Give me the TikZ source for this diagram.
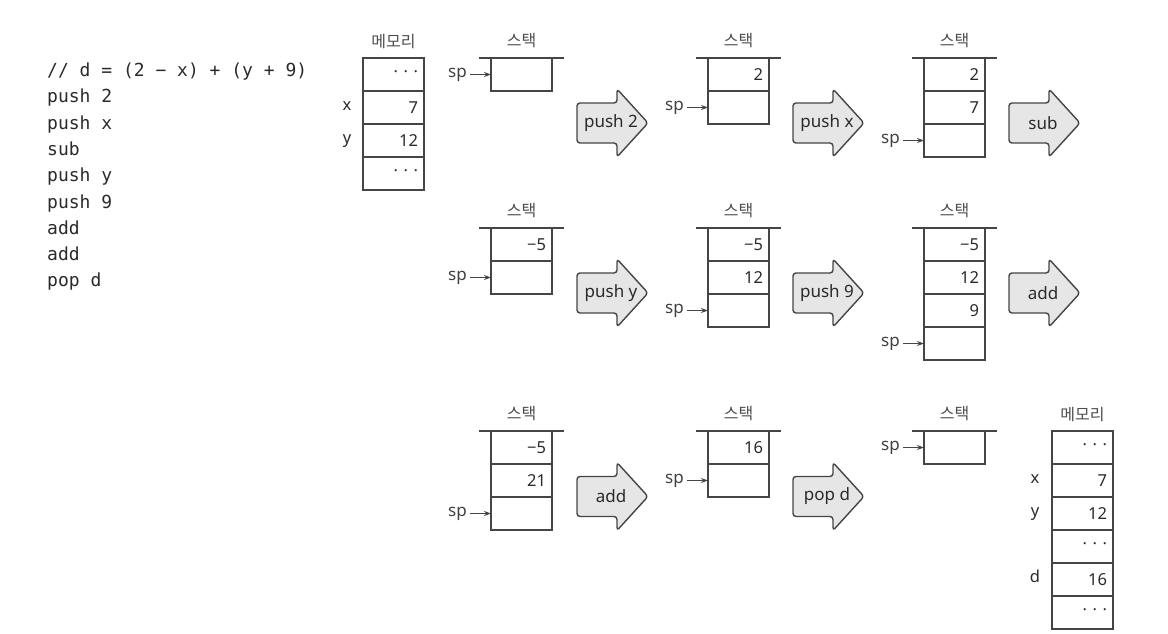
\documentclass[tikz,border=0pt]{standalone}
\usepackage{fontspec}
\setmainfont{Noto Sans}
\newfontfamily\krfont{Noto Sans CJK KR}
\newfontfamily\codefont{DejaVu Sans Mono}
\usetikzlibrary{arrows.meta}
\definecolor{ln}{HTML}{454545}
\definecolor{tx}{HTML}{2A2A2A}
\definecolor{afill}{HTML}{E6E6E6}
\newcommand\blockarrow[4]{%
  \draw[barrowsty] (#2,#3-20) -- (#2+40,#3-20) -- (#2+40,#3-34) -- (#2+71,#3)
     -- (#2+40,#3+34) -- (#2+40,#3+20) -- (#2,#3+20) -- cycle;
  \node[arrowtext] (#1) at (#2+34,#3) {#4};}
\begin{document}
\begin{tikzpicture}[x=1pt,y=-1pt,
  cell/.style={draw=ln, line width=1.5pt, minimum width=61pt, minimum height=33pt,
    inner xsep=6pt, inner ysep=0pt, outer sep=0pt, text width=49pt, align=right,
    anchor=north west, font=\fontsize{16.5}{18}\selectfont, text=tx},
  topline/.style={draw=ln, line width=2.6pt},
  kr/.style={font=\krfont\fontsize{16}{18}\selectfont, text=black!70, inner sep=0pt},
  splbl/.style={font=\fontsize{17}{18}\selectfont, text=black!75, inner sep=0pt, anchor=mid east},
  sparrow/.style={draw=ln, line width=1.1pt, -{Stealth[length=7pt,width=5pt]}},
  varlbl/.style={font=\fontsize{16.5}{18}\selectfont, text=tx, inner sep=0pt, anchor=mid},
  barrowsty/.style={draw=ln, line width=1.4pt, fill=afill, rounded corners=3pt, line join=round},
  arrowtext/.style={font=\fontsize{17}{18}\selectfont, text=tx, inner sep=0pt},
  code/.style={font=\codefont\fontsize{18}{20}\selectfont, text=tx, inner sep=0pt, anchor=base west}
]
\useasboundingbox (0,0) rectangle (1168,634);

% code listing
\node[code] (code1) at (47,76.5) {// d = (2 − x) + (y + 9)};
\node[code] (code2) at (47,102.8) {push 2};
\node[code] (code3) at (47,129.1) {push x};
\node[code] (code4) at (47,155.4) {sub};
\node[code] (code5) at (47,181.7) {push y};
\node[code] (code6) at (47,208.0) {push 9};
\node[code] (code7) at (47,234.3) {add};
\node[code] (code8) at (47,260.6) {add};
\node[code] (code9) at (47,286.9) {pop d};

% memory 1
\node[cell] (m1a) at (363,58) {· · ·};
\node[cell] (m1b) at (m1a.south west) {7};
\node[cell] (m1c) at (m1b.south west) {12};
\node[cell] (m1d) at (m1c.south west) {· · ·};
\node[kr] (m1lbl) at ([yshift=16pt]m1a.north) {메모리};
\node[varlbl] (m1x) at ([xshift=-16pt]m1b.west) {x};
\node[varlbl] (m1y) at ([xshift=-16pt]m1c.west) {y};

% ---------- row 1 ----------
\node[cell] (A1) at (491,58) {};
\draw[topline] ([xshift=-12pt]A1.north west) -- ([xshift=12pt]A1.north east);
\node[kr] (Albl) at ([yshift=17pt]A1.north) {스택};
\node[splbl] (Asp) at ([xshift=-24pt]A1.west) {sp};
\draw[sparrow] ([xshift=3pt]Asp.mid east) -- (A1.west);
\blockarrow{arr1}{577}{123}{push 2}
\node[cell] (B1) at (708,58) {2};
\node[cell] (B2) at (B1.south west) {};
\draw[topline] ([xshift=-12pt]B1.north west) -- ([xshift=12pt]B1.north east);
\node[kr] (Blbl) at ([yshift=17pt]B1.north) {스택};
\node[splbl] (Bsp) at ([xshift=-24pt]B2.west) {sp};
\draw[sparrow] ([xshift=3pt]Bsp.mid east) -- (B2.west);
\blockarrow{arr2}{793}{123}{push x}
\node[cell] (C1) at (924,58) {2};
\node[cell] (C2) at (C1.south west) {7};
\node[cell] (C3) at (C2.south west) {};
\draw[topline] ([xshift=-12pt]C1.north west) -- ([xshift=12pt]C1.north east);
\node[kr] (Clbl) at ([yshift=17pt]C1.north) {스택};
\node[splbl] (Csp) at ([xshift=-24pt]C3.west) {sp};
\draw[sparrow] ([xshift=3pt]Csp.mid east) -- (C3.west);
\blockarrow{arr3}{1009}{123}{sub}

% ---------- row 2 ----------
\node[cell] (D1) at (491,228) {−5};
\node[cell] (D2) at (D1.south west) {};
\draw[topline] ([xshift=-12pt]D1.north west) -- ([xshift=12pt]D1.north east);
\node[kr] (Dlbl) at ([yshift=17pt]D1.north) {스택};
\node[splbl] (Dsp) at ([xshift=-24pt]D2.west) {sp};
\draw[sparrow] ([xshift=3pt]Dsp.mid east) -- (D2.west);
\blockarrow{arr4}{577}{293}{push y}
\node[cell] (E1) at (708,228) {−5};
\node[cell] (E2) at (E1.south west) {12};
\node[cell] (E3) at (E2.south west) {};
\draw[topline] ([xshift=-12pt]E1.north west) -- ([xshift=12pt]E1.north east);
\node[kr] (Elbl) at ([yshift=17pt]E1.north) {스택};
\node[splbl] (Esp) at ([xshift=-24pt]E3.west) {sp};
\draw[sparrow] ([xshift=3pt]Esp.mid east) -- (E3.west);
\blockarrow{arr5}{793}{293}{push 9}
\node[cell] (F1) at (924,228) {−5};
\node[cell] (F2) at (F1.south west) {12};
\node[cell] (F3) at (F2.south west) {9};
\node[cell] (F4) at (F3.south west) {};
\draw[topline] ([xshift=-12pt]F1.north west) -- ([xshift=12pt]F1.north east);
\node[kr] (Flbl) at ([yshift=17pt]F1.north) {스택};
\node[splbl] (Fsp) at ([xshift=-24pt]F4.west) {sp};
\draw[sparrow] ([xshift=3pt]Fsp.mid east) -- (F4.west);
\blockarrow{arr6}{1009}{293}{add}

% ---------- row 3 ----------
\node[cell] (G1) at (491,431) {−5};
\node[cell] (G2) at (G1.south west) {21};
\node[cell] (G3) at (G2.south west) {};
\draw[topline] ([xshift=-12pt]G1.north west) -- ([xshift=12pt]G1.north east);
\node[kr] (Glbl) at ([yshift=17pt]G1.north) {스택};
\node[splbl] (Gsp) at ([xshift=-24pt]G3.west) {sp};
\draw[sparrow] ([xshift=3pt]Gsp.mid east) -- (G3.west);
\blockarrow{arr7}{577}{496.5}{add}
\node[cell] (H1) at (708,431) {16};
\node[cell] (H2) at (H1.south west) {};
\draw[topline] ([xshift=-12pt]H1.north west) -- ([xshift=12pt]H1.north east);
\node[kr] (Hlbl) at ([yshift=17pt]H1.north) {스택};
\node[splbl] (Hsp) at ([xshift=-24pt]H2.west) {sp};
\draw[sparrow] ([xshift=3pt]Hsp.mid east) -- (H2.west);
\blockarrow{arr8}{793}{496.5}{pop d}
\node[cell] (I1) at (924,431) {};
\draw[topline] ([xshift=-12pt]I1.north west) -- ([xshift=12pt]I1.north east);
\node[kr] (Ilbl) at ([yshift=17pt]I1.north) {스택};
\node[splbl] (Isp) at ([xshift=-24pt]I1.west) {sp};
\draw[sparrow] ([xshift=3pt]Isp.mid east) -- (I1.west);

% memory 2
\node[cell] (m2a) at (1052,431) {· · ·};
\node[cell] (m2b) at (m2a.south west) {7};
\node[cell] (m2c) at (m2b.south west) {12};
\node[cell] (m2d) at (m2c.south west) {· · ·};
\node[cell] (m2e) at (m2d.south west) {16};
\node[cell] (m2f) at (m2e.south west) {· · ·};
\node[kr] (m2lbl) at ([yshift=16pt]m2a.north) {메모리};
\node[varlbl] (m2xl) at ([xshift=-17pt]m2b.west) {x};
\node[varlbl] (m2yl) at ([xshift=-17pt]m2c.west) {y};
\node[varlbl] (m2dl) at ([xshift=-17pt]m2e.west) {d};
\end{tikzpicture}
\end{document}
